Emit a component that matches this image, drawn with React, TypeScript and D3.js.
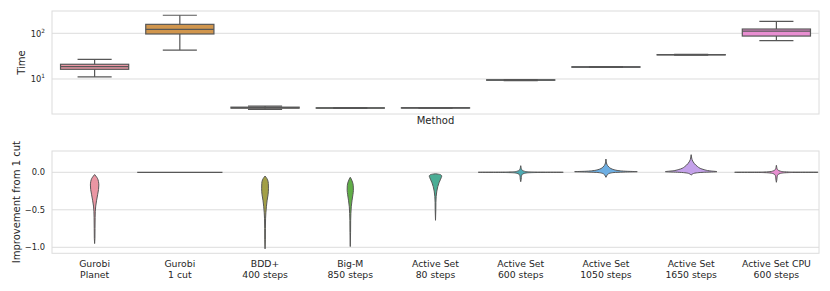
import React from "react";
import * as d3 from "d3";

// ---------------- DATA ----------------
const methodLines: string[][] = [
  ["Gurobi", "Planet"],
  ["Gurobi", "1 cut"],
  ["BDD+", "400 steps"],
  ["Big-M", "850 steps"],
  ["Active Set", "80 steps"],
  ["Active Set", "600 steps"],
  ["Active Set", "1050 steps"],
  ["Active Set", "1650 steps"],
  ["Active Set CPU", "600 steps"],
];
const methods = methodLines.map((l) => l.join(" "));

// Time box statistics (seconds, log scale)
const timeWhiskerLo = [11.1, 43, 2.17, 2.28, 2.29, 9.25, 17.9, 33.3, 69];
const timeQ1 = [16.3, 96.6, 2.3, 2.3, 2.31, 9.4, 18.1, 33.6, 87];
const timeMedian = [18.6, 122, 2.36, 2.32, 2.33, 9.5, 18.3, 33.9, 112];
const timeQ3 = [21, 157, 2.42, 2.34, 2.35, 9.6, 18.5, 34.2, 124];
const timeWhiskerHi = [27, 248, 2.56, 2.36, 2.37, 9.75, 18.7, 34.6, 183];
const timeTicks = [10, 100];

// Improvement from 1 cut: violin density profiles [value, relative density]
const violinPlanet: [number, number][] = [
  [-0.03, 0], [-0.05, 0.028], [-0.08, 0.066], [-0.12, 0.089], [-0.17, 0.099],
  [-0.23, 0.092], [-0.3, 0.07], [-0.38, 0.045], [-0.45, 0.026], [-0.52, 0.016],
  [-0.6, 0.012], [-0.75, 0.009], [-0.88, 0.007], [-0.95, 0],
];
const violinOneCut: [number, number][] = [[0, 1]];
const violinBDD: [number, number][] = [
  [-0.05, 0], [-0.07, 0.028], [-0.1, 0.059], [-0.15, 0.077], [-0.22, 0.08],
  [-0.3, 0.07], [-0.38, 0.047], [-0.46, 0.031], [-0.54, 0.019], [-0.62, 0.012],
  [-0.75, 0.008], [-0.9, 0.007], [-1.02, 0],
];
const violinBigM: [number, number][] = [
  [-0.067, 0], [-0.09, 0.023], [-0.13, 0.052], [-0.18, 0.07], [-0.24, 0.073],
  [-0.3, 0.061], [-0.38, 0.04], [-0.46, 0.023], [-0.55, 0.014], [-0.64, 0.009],
  [-0.8, 0.007], [-0.99, 0],
];
const violinAS80: [number, number][] = [
  [-0.02, 0], [-0.025, 0.07], [-0.035, 0.129], [-0.05, 0.146], [-0.07, 0.136],
  [-0.1, 0.113], [-0.14, 0.082], [-0.19, 0.054], [-0.25, 0.031], [-0.32, 0.016],
  [-0.4, 0.009], [-0.5, 0.007], [-0.64, 0],
];
const violinAS600: [number, number][] = [
  [0.088, 0], [0.06, 0.009], [0.04, 0.019], [0.025, 0.042], [0.015, 0.082],
  [0.008, 0.141], [0.004, 0.282], [0.0015, 0.587], [0, 0.998], [-0.0015, 0.587],
  [-0.004, 0.282], [-0.008, 0.141], [-0.015, 0.082], [-0.025, 0.042],
  [-0.04, 0.023], [-0.07, 0.014], [-0.1, 0.009], [-0.125, 0],
];
const violinAS1050: [number, number][] = [
  [0.177, 0], [0.14, 0.009], [0.11, 0.019], [0.09, 0.038], [0.07, 0.07],
  [0.05, 0.117], [0.035, 0.188], [0.022, 0.305], [0.014, 0.469], [0.008, 0.735],
  [0.003, 0.423], [-0.003, 0.188], [-0.012, 0.094], [-0.025, 0.047],
  [-0.045, 0.019], [-0.067, 0],
];
const violinAS1650: [number, number][] = [
  [0.235, 0], [0.19, 0.012], [0.15, 0.035], [0.12, 0.07], [0.097, 0.106],
  [0.075, 0.153], [0.053, 0.211], [0.035, 0.305], [0.02, 0.423], [0.008, 0.606],
  [0.0, 0.282], [-0.008, 0.117], [-0.018, 0.047], [-0.028, 0.019], [-0.036, 0],
];
const violinCPU: [number, number][] = [
  [0.093, 0], [0.065, 0.009], [0.042, 0.019], [0.027, 0.045], [0.016, 0.088],
  [0.009, 0.15], [0.004, 0.29], [0.0015, 0.57], [0, 0.979], [-0.0015, 0.57],
  [-0.004, 0.29], [-0.009, 0.15], [-0.016, 0.088], [-0.027, 0.045],
  [-0.045, 0.023], [-0.075, 0.014], [-0.105, 0.009], [-0.133, 0],
];
const violins = [
  violinPlanet, violinOneCut, violinBDD, violinBigM, violinAS80,
  violinAS600, violinAS1050, violinAS1650, violinCPU,
];
const improvementTicks = [0, -0.5, -1];

// ---------------- COLOURS (seaborn husl palette, l=.7, desaturated .75) ----------------
const M = [
  [3.240969941904521, -1.537383177570093, -0.498610760293],
  [-0.96924363628087, 1.87596750150772, 0.041555057407175],
  [0.055630079696993, -0.20397695888897, 1.056971514242878],
];
const KAPPA = 903.2962962;
const EPS = 0.0088564516;
function maxChroma(L: number, H: number) {
  const hr = (H / 360) * Math.PI * 2;
  const sub1 = Math.pow(L + 16, 3) / 1560896;
  const sub2 = sub1 > EPS ? sub1 : L / KAPPA;
  let min = Infinity;
  for (const [m1, m2, m3] of M) {
    for (const t of [0, 1]) {
      const top1 = (284517 * m1 - 94839 * m3) * sub2;
      const top2 = (838422 * m3 + 769860 * m2 + 731718 * m1) * L * sub2 - 769860 * t * L;
      const bottom = (632260 * m3 - 126452 * m2) * sub2 + 126452 * t;
      const slope = top1 / bottom;
      const inter = top2 / bottom;
      const len = inter / (Math.sin(hr) - slope * Math.cos(hr));
      if (len >= 0) min = Math.min(min, len);
    }
  }
  return min;
}
function hsluv(H: number, S: number, L: number) {
  const C = (maxChroma(L, H) / 100) * S;
  const hr = (H / 360) * Math.PI * 2;
  const U = C * Math.cos(hr);
  const V = C * Math.sin(hr);
  const Y = L <= 8 ? L / KAPPA : Math.pow((L + 16) / 116, 3);
  const refU = 0.19783000664283;
  const refV = 0.46831999493879;
  const vU = U / (13 * L) + refU;
  const vV = V / (13 * L) + refV;
  const X = -(9 * Y * vU) / ((vU - 4) * vV - vU * vV);
  const Z = (9 * Y - 15 * vV * Y - vV * X) / (3 * vV);
  const rgb = M.map((r) => r[0] * X + r[1] * Y + r[2] * Z).map((c) =>
    c <= 0.0031308 ? 12.92 * c : 1.055 * Math.pow(c, 1 / 2.4) - 0.055
  );
  const [r, g, b] = rgb.map((c) => Math.max(0, Math.min(1, c)) * 255);
  const hsl = d3.hsl(d3.rgb(r, g, b));
  hsl.s *= 0.75;
  return hsl.formatHex();
}
const colors = methods.map((_, i) => {
  const h = ((i / methods.length + 0.01) % 1) * 359;
  return hsluv(h, 0.9 * 99, 0.7 * 99);
});

// ---------------- LAYOUT ----------------
const W = 830;
const H = 291;
const left = 52;
const right = 819;
const top1 = 11;
const bottom1 = 114;
const top2 = 151;
const bottom2 = 253.3;
const lineGray = "#575757";
const gridGray = "#dcdcdc";
const textColor = "#262626";
const font = "DejaVu Sans, sans-serif";

export default function App() {
  const x = d3.scaleBand<string>().domain(methods).range([left, right]).padding(0);
  const band = x.bandwidth();
  const yTime = d3.scaleLog().domain([1.714, 307.6]).range([bottom1, top1]);
  const yImp = d3.scaleLinear().domain([-1.08, 0.284]).range([bottom2, top2]);
  const wScale = d3.scaleLinear().domain([0, 1]).range([0, band / 2]);
  const boxW = band * 0.8;

  const area = d3
    .area<[number, number]>()
    .y((d) => yImp(d[0]))
    .x0(() => 0)
    .x1(() => 0)
    .curve(d3.curveMonotoneY);

  return (
    <svg
      width={W}
      height={H}
      style={{ position: "absolute", left: 0, top: 0, display: "block", background: "#fff" }}
      fontFamily={font}
    >
      {/* ---------- top panel ---------- */}
      {timeTicks.map((t) => (
        <line key={"tg" + t} x1={left} x2={right} y1={yTime(t)} y2={yTime(t)} stroke={gridGray} strokeWidth={1} />
      ))}
      {methods.map((m, i) => {
        const cx = x(m)! + band / 2;
        const yLo = yTime(timeWhiskerLo[i]);
        const yQ1 = yTime(timeQ1[i]);
        const yMed = yTime(timeMedian[i]);
        const yQ3 = yTime(timeQ3[i]);
        const yHi = yTime(timeWhiskerHi[i]);
        return (
          <g key={"box" + m}>
            <rect x={cx - boxW / 2} y={yQ3} width={boxW} height={Math.max(0.01, yQ1 - yQ3)} fill={colors[i]} stroke={lineGray} strokeWidth={1.2} />
            <line x1={cx} x2={cx} y1={yQ3} y2={yHi} stroke={lineGray} strokeWidth={1.2} />
            <line x1={cx} x2={cx} y1={yQ1} y2={yLo} stroke={lineGray} strokeWidth={1.2} />
            <line x1={cx - boxW / 4} x2={cx + boxW / 4} y1={yHi} y2={yHi} stroke={lineGray} strokeWidth={1.2} />
            <line x1={cx - boxW / 4} x2={cx + boxW / 4} y1={yLo} y2={yLo} stroke={lineGray} strokeWidth={1.2} />
            <line x1={cx - boxW / 2} x2={cx + boxW / 2} y1={yMed} y2={yMed} stroke={lineGray} strokeWidth={1.2} />
          </g>
        );
      })}
      <rect x={left} y={top1} width={right - left} height={bottom1 - top1} fill="none" stroke={gridGray} strokeWidth={1} />
      {timeTicks.map((t) => (
        <text key={"tt" + t} x={45} y={yTime(t) + 3.3} textAnchor="end" fontSize={8.3} fill={textColor}>
          10
          <tspan dy={-4} fontSize={5.8}>
            {Math.round(Math.log10(t))}
          </tspan>
        </text>
      ))}
      <text transform={`translate(25,${(top1 + bottom1) / 2}) rotate(-90)`} textAnchor="middle" fontSize={10} fill={textColor}>
        Time
      </text>
      <text x={(left + right) / 2} y={124} textAnchor="middle" fontSize={10} fill={textColor}>
        Method
      </text>

      {/* ---------- bottom panel ---------- */}
      {improvementTicks.map((t) => (
        <line key={"ig" + t} x1={left} x2={right} y1={yImp(t)} y2={yImp(t)} stroke={gridGray} strokeWidth={1} />
      ))}
      {methods.map((m, i) => {
        const cx = x(m)! + band / 2;
        const prof = violins[i];
        if (prof.length === 1) {
          const w = wScale(prof[0][1]);
          return (
            <line key={"v" + m} x1={cx - w} x2={cx + w} y1={yImp(prof[0][0])} y2={yImp(prof[0][0])} stroke={lineGray} strokeWidth={1.2} />
          );
        }
        const a = area.x0((d) => cx - wScale(d[1])).x1((d) => cx + wScale(d[1]));
        return <path key={"v" + m} d={a(prof) || ""} fill={colors[i]} stroke={lineGray} strokeWidth={1} strokeLinejoin="round" />;
      })}
      <rect x={left} y={top2} width={right - left} height={bottom2 - top2} fill="none" stroke={gridGray} strokeWidth={1} />
      {improvementTicks.map((t) => (
        <text key={"it" + t} x={45} y={yImp(t) + 3} textAnchor="end" fontSize={8.3} fill={textColor}>
          {d3.format(".1f")(t).replace("-", "\u2212")}
        </text>
      ))}
      <text transform={`translate(19.5,${(top2 + bottom2) / 2}) rotate(-90)`} textAnchor="middle" fontSize={10} fill={textColor}>
        Improvement from 1 cut
      </text>
      {methodLines.map((lines, i) => (
        <text key={"xl" + i} x={x(methods[i])! + band / 2} textAnchor="middle" fontSize={9.3} fill={textColor}>
          <tspan x={x(methods[i])! + band / 2} y={267.3}>
            {lines[0]}
          </tspan>
          <tspan x={x(methods[i])! + band / 2} y={277.7}>
            {lines[1]}
          </tspan>
        </text>
      ))}
    </svg>
  );
}
